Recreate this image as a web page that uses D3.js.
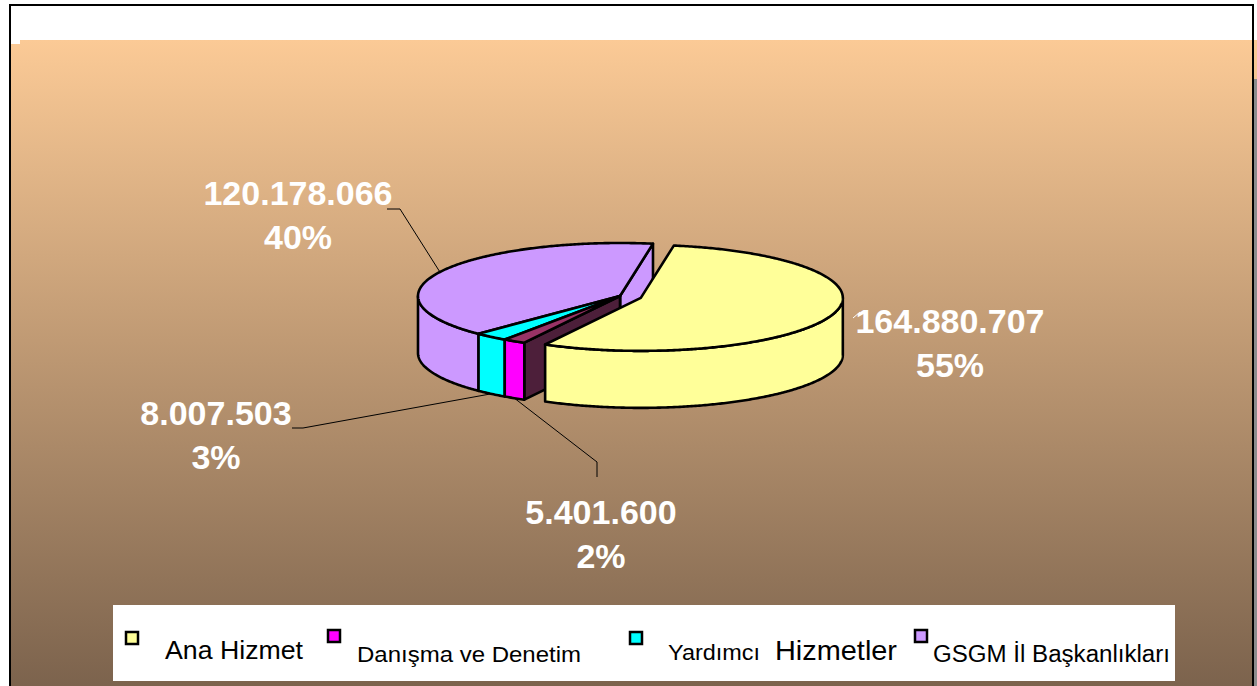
<!DOCTYPE html>
<html>
<head>
<meta charset="utf-8">
<script src="https://cdn.jsdelivr.net/npm/d3@7"></script>
<style>
  html, body { margin: 0; padding: 0; background: #fff; overflow: hidden; }
  svg { display: block; font-family: "Liberation Sans", Arial, sans-serif; }
</style>
</head>
<body>
<svg id="chart" width="1257" height="686"></svg>
<script>
// --- data ---
const categories = ["Ana Hizmet", "Danışma ve Denetim", "Yardımcı Hizmetler", "GSGM İl Başkanlıkları"];
const values     = [164880707, 5401600, 8007503, 120178066];
const sliceColors = ["#ffff99", "#ff00ff", "#00ffff", "#cc99ff"];
// Excel draws the thin slice's top and cut face in darker tones
const topColors  = ["#ffff99", "#993366", "#00ffff", "#cc99ff"];
const wallColors = ["#ffff99", "#4d1f3a", "#00ffff", "#cc99ff"];

const svg = d3.select("#chart");
const W = 1257, H = 686;

// --- background panel ---
const defs = svg.append("defs");
const bg = defs.append("linearGradient")
  .attr("id", "bg")
  .attr("x1", 0).attr("y1", 0).attr("x2", 0).attr("y2", 1);
bg.append("stop").attr("offset", "0%").attr("stop-color", "#fbca96");
bg.append("stop").attr("offset", "100%").attr("stop-color", "#7c634d");

svg.append("rect")
  .attr("x", 10).attr("y", 40)
  .attr("width", W - 10).attr("height", H - 40)
  .attr("fill", "url(#bg)");
svg.append("rect")          // little white notch top-left
  .attr("x", 10).attr("y", 40).attr("width", 10).attr("height", 4)
  .attr("fill", "#fff");
svg.append("rect")          // grey strip right of the frame
  .attr("x", 1254).attr("y", 79).attr("width", 3).attr("height", H - 79)
  .attr("fill", "#8c8c8c");
svg.append("path")
  .attr("d", `M10,${H} V5 H1253 V${H}`)
  .attr("fill", "none")
  .attr("stroke", "#000")
  .attr("stroke-width", 2);

// --- 3D pie geometry ---
const cx = 620, cy = 296;      // centre of top face
const rx = 202, ry = 53;       // ellipse radii
const depth = 57;              // thickness
const startDeg = 9.4;
const explode = [22, 0, 0, 0];

const total = d3.sum(values);
const pie = d3.pie().sort(null)
  .startAngle(startDeg * Math.PI / 180)
  .endAngle(startDeg * Math.PI / 180 + 2 * Math.PI);
const arcs = pie(values);

arcs.forEach((a, i) => {
  const mid = (a.startAngle + a.endAngle) / 2;
  a.ox = explode[i] * Math.sin(mid);
  a.oy = -explode[i] * Math.cos(mid) * ry / rx;
  a.mid = mid;
});

function pt(a, d, z) {
  return [cx + d.ox + rx * Math.sin(a), cy + d.oy - ry * Math.cos(a) + z];
}
function rim(a0, a1, d, z) {
  const n = Math.max(2, Math.ceil(Math.abs(a1 - a0) / 0.01));
  return d3.range(n + 1).map(k => pt(a0 + (a1 - a0) * k / n, d, z));
}
const line = d3.line();
const closed = pts => line(pts) + "Z";

const pieG = svg.append("g")
  .attr("stroke", "#000")
  .attr("stroke-width", 2.6)
  .attr("stroke-linejoin", "round");

// back to front: draw in reverse data order
const order = d3.range(arcs.length).reverse();
order.forEach(i => {
  const d = arcs[i];
  const g = pieG.append("g");
  const c = [cx + d.ox, cy + d.oy];

  // radial walls that face the viewer
  [[d.startAngle, d.startAngle - Math.PI / 2], [d.endAngle, d.endAngle + Math.PI / 2]]
    .forEach(([a, n]) => {
      if (Math.cos(n) >= 0) return;
      const p = pt(a, d, 0), q = pt(a, d, depth);
      g.append("path")
        .attr("d", closed([c, p, q, [c[0], c[1] + depth]]))
        .attr("fill", wallColors[i]);
    });

  // outer side: only the front half of the cylinder
  [0, 2 * Math.PI].forEach(k => {
    const s = Math.max(d.startAngle, Math.PI / 2 + k);
    const e = Math.min(d.endAngle, 3 * Math.PI / 2 + k);
    if (e <= s) return;
    const top = rim(s, e, d, 0);
    const bot = rim(e, s, d, depth);
    g.append("path")
      .attr("d", closed(top.concat(bot)))
      .attr("fill", sliceColors[i]);
  });

  // top face
  g.append("path")
    .attr("d", closed([c].concat(rim(d.startAngle, d.endAngle, d, 0))))
    .attr("fill", topColors[i]);
});

// --- data labels ---
const fmt = d3.formatLocale({ decimal: ",", thousands: ".", grouping: [3], currency: ["", ""] }).format(",");
const labelLayout = [
  { x: 950, y: 333, anchor: null,     pts: [[860, 312], [853, 318]], stroke: "#fff" },
  { x: 601, y: 524, anchor: "bottom", pts: [[597, 477], [597, 462]], stroke: "#000" },
  { x: 216, y: 425, anchor: "bottom", pts: [[292, 428], [303, 428]], stroke: "#000" },
  { x: 298, y: 205, anchor: "top",    pts: [[387, 209], [400, 209]], stroke: "#000" }
];

arcs.forEach((d, i) => {
  const L = labelLayout[i];
  const pts = L.pts.slice();
  if (L.anchor) pts.push(pt(d.mid, d, L.anchor === "top" ? 0 : depth));
  svg.append("path")
    .attr("d", line(pts))
    .attr("fill", "none")
    .attr("stroke", L.stroke)
    .attr("stroke-width", 1);

  const t = svg.append("text")
    .attr("text-anchor", "middle")
    .attr("fill", "#fff")
    .attr("font-weight", "bold")
    .attr("font-size", 34);
  t.append("tspan").attr("x", L.x).attr("y", L.y).text(fmt(d.data));
  t.append("tspan").attr("x", L.x).attr("y", L.y + 44)
    .text(Math.round(d.data / total * 100) + "%");
});

// --- legend ---
svg.append("rect")
  .attr("x", 113).attr("y", 605)
  .attr("width", 1062).attr("height", 76)
  .attr("fill", "#fff");

const legendLayout = [
  { sx: 126, sy: 632, parts: [{ x: 165, y: 659, size: 26, len: 138, text: "Ana Hizmet" }] },
  { sx: 328, sy: 630, parts: [{ x: 357, y: 662, size: 22.5, len: 224, text: "Danışma ve Denetim" }] },
  { sx: 630, sy: 632, parts: [{ x: 668, y: 660, size: 22.5, len: 92, text: "Yardımcı" },
                              { x: 775, y: 660, size: 28.5, len: 122, text: "Hizmetler" }] },
  { sx: 915, sy: 630, parts: [{ x: 933, y: 662, size: 23, len: 237, text: "GSGM İl Başkanlıkları" }] }
];

categories.forEach((name, i) => {
  const L = legendLayout[i];
  svg.append("rect")
    .attr("x", L.sx).attr("y", L.sy)
    .attr("width", 12).attr("height", 12)
    .attr("fill", sliceColors[i])
    .attr("stroke", "#000")
    .attr("stroke-width", 2.5);
  L.parts.forEach(p => {
    svg.append("text")
      .attr("x", p.x).attr("y", p.y)
      .attr("font-size", p.size)
      .attr("textLength", p.len)
      .attr("lengthAdjust", "spacingAndGlyphs")
      .attr("fill", "#000")
      .text(p.text);
  });
});
</script>
</body>
</html>
